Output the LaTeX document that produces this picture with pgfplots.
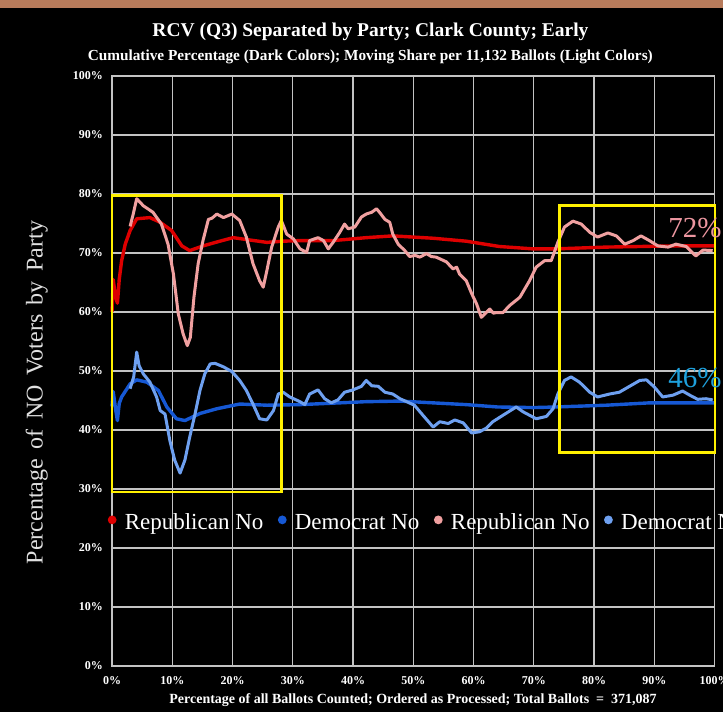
\documentclass[border=0pt]{standalone}
\usepackage{pgfplots}
\pgfplotsset{compat=1.18}
\usepackage{fontspec}
\setmainfont{Liberation Serif}
\definecolor{cRed}{RGB}{222,0,0}
\definecolor{cPink}{RGB}{240,160,160}
\definecolor{cBlue}{RGB}{22,88,212}
\definecolor{cLBlue}{RGB}{110,160,240}
\definecolor{cYel}{RGB}{255,240,0}
\definecolor{cGrid}{RGB}{195,195,195}
\definecolor{cBrown}{RGB}{184,123,91}
\definecolor{c72}{RGB}{236,150,160}
\definecolor{c46}{RGB}{30,160,220}
\begin{document}
\begin{tikzpicture}
\fill[black] (0,0) rectangle (723pt,712pt);
\fill[cBrown] (0,704pt) rectangle (723pt,712pt);
\begin{axis}[
  at={(112pt,46pt)}, anchor=south west,
  scale only axis, width=602.5pt, height=590pt,
  xmin=0, xmax=100, ymin=0, ymax=100,
  clip=false,
  xtick={0,10,...,100}, ytick={0,10,...,100},
  xticklabels={0\%,10\%,20\%,30\%,40\%,50\%,60\%,70\%,80\%,90\%,100\%},
  yticklabels={0\%,10\%,20\%,30\%,40\%,50\%,60\%,70\%,80\%,90\%,100\%},
  ticklabel style={text=white, font=\bfseries\fontsize{12}{12}\selectfont},
  xticklabel style={anchor=base, inner sep=0pt, yshift=-19pt},
  yticklabel style={anchor=base east, inner sep=0pt, xshift=-9pt, yshift=-4pt},
  major tick length=0pt,
  grid=major,
  major grid style={draw=cGrid, line width=1.2pt},
  axis line style={draw=cGrid, line width=1.2pt},
  legend columns=4,
  legend image code/.code={\fill[#1,draw=none] (4.4pt,0.6ex) circle (4.4pt);},
  legend style={at={(-0.007,0.243)}, anchor=west, draw=none, fill=none,
    text=white, font=\fontsize{23}{23}\selectfont, inner sep=0pt, outer sep=0pt,
    nodes={inner sep=0pt},
    /tikz/every even column/.append style={column sep=14.5pt},
    /tikz/every odd column/.append style={column sep=8.2pt}},
]
\addplot[color=cRed, line width=3.4pt, line join=round] coordinates {
(0,60) (0.2,65.5) (0.6,62.5) (0.9,61.5) (1.2,65.5) (1.6,68.7) (2.2,71.5) (3.0,73.8) (4.1,75.8) (6.3,76.0) (8.0,75.2) (9.9,73.8) (11.6,71.2) (12.9,70.4) (15.1,71.2) (17.9,72.0) (20.1,72.6) (22.9,72.2) (25.7,71.8) (28.4,72.0) (31.2,72.1) (36.7,72.1) (42.2,72.6) (46.6,72.9) (53.3,72.5) (58.8,72.0) (64.3,71.1) (69.8,70.7) (73.7,70.7) (76.5,70.8) (82,71.0) (87.6,71.1) (93,71.2) (100,71.2)
};
\addlegendentry{Republican No}
\addplot[color=cBlue, line width=3.4pt, line join=round] coordinates {
(0,44) (0.2,46.5) (0.6,43.5) (0.9,41.6) (1.2,44.5) (1.6,45.6) (3.0,47.8) (4.1,48.5) (5.8,48.1) (7.7,46.7) (9.1,43.9) (10.7,41.9) (12.1,41.6) (14.6,42.8) (17.4,43.6) (21.2,44.4) (25.7,44.2) (31.2,44.3) (42.2,44.8) (47.8,44.9) (58.8,44.3) (64,43.9) (69.9,43.8) (73.7,43.9) (82.0,44.2) (89.2,44.6) (100,44.6)
};
\addlegendentry{Democrat No}
\addplot[color=cPink, line width=3pt, line join=round] coordinates {
(3.0,74.5) (3.5,76.5) (4.1,79.2) (5.2,78.0) (6.8,76.9) (8.2,74.9) (9.3,71.5) (10.2,66.4) (11.0,59.7) (11.8,56.3) (12.5,54.3) (13.0,55.7) (13.6,62.5) (14.3,68.2) (15.1,72.1) (16.0,75.7) (16.6,75.9) (17.4,76.6) (18.5,76.0) (19.2,76.3) (19.9,76.6) (21.2,75.5) (22.3,72.7) (23.4,68.2) (24.5,65.3) (25.1,64.2) (25.7,67.0) (26.5,71.0) (27.6,74.4) (28.1,75.5) (29.0,73.2) (30.1,72.4) (31.2,70.7) (32.3,70.1) (32.8,72.1) (34.2,72.6) (35.1,72.1) (35.9,70.7) (36.7,71.8) (37.8,73.5) (38.6,74.9) (39.2,74.1) (40.3,74.4) (41.4,76.1) (42.2,76.6) (43.1,76.9) (43.9,77.5) (44.4,76.9) (45.3,75.7) (46.1,75.2) (46.6,73.2) (47.5,71.5) (48.6,70.4) (49.4,69.4) (50.3,69.6) (51.1,69.3) (52.2,69.9) (53.0,69.4) (53.8,69.3) (55.5,68.5) (56.6,67.3) (57.2,67.6) (57.7,66.4) (58.8,65.3) (59.7,63.1) (60.5,61.4) (61.3,59.1) (61.9,59.7) (62.7,60.5) (63.3,59.8) (63.8,59.9) (64.9,59.9) (66.0,61.1) (67.7,62.5) (69.3,65.3) (70.4,67.6) (71.8,68.7) (72.9,68.7) (74.0,71.8) (75.1,74.4) (76.5,75.4) (77.9,74.9) (79.3,73.5) (80.6,72.7) (82.3,73.4) (83.7,72.9) (85.1,71.5) (86.5,72.1) (87.8,72.9) (89.2,72.1) (90.6,71.2) (92.3,71.0) (93.6,71.5) (95.3,71.1) (96.9,69.5) (98.1,70.5) (99.7,70.4)
};
\addlegendentry{Republican No}
\addplot[color=cLBlue, line width=3pt, line join=round] coordinates {
(3.0,47.0) (3.6,49.0) (4.1,53.2) (4.5,50.9) (5.2,49.5) (6.3,48.1) (7.4,45.6) (8.0,43.3) (8.8,42.7) (9.6,38.2) (10.4,34.9) (11.3,32.7) (12.1,34.9) (12.9,38.8) (13.8,42.8) (14.6,46.7) (15.4,49.5) (16.3,51.2) (17.1,51.3) (18.5,50.7) (19.9,49.9) (21.2,48.4) (22.3,46.7) (23.4,44.4) (24.5,41.9) (25.7,41.7) (26.8,43.3) (27.6,46.1) (28.4,46.4) (29.5,45.6) (31.2,44.8) (32.0,44.3) (32.8,46.1) (34.2,46.8) (35.3,45.3) (36.4,44.6) (37.5,45.1) (38.6,46.4) (40.0,46.8) (41.4,47.4) (42.2,48.4) (43.1,47.5) (44.2,47.4) (45.3,46.4) (46.6,46.1) (47.8,45.3) (48.9,44.8) (50.2,44.2) (51.6,42.5) (53.3,40.5) (54.4,41.4) (55.8,41.1) (56.9,41.7) (58.3,41.2) (59.7,39.5) (61.0,39.7) (62.1,40.3) (63.2,41.4) (64.9,42.5) (66.3,43.4) (67.1,43.9) (68.2,43.1) (69.3,42.5) (70.4,41.9) (72.1,42.3) (73.2,43.6) (74.0,46.1) (75.1,48.4) (76.2,49.0) (77.6,48.1) (79.3,46.4) (80.6,45.6) (82.6,46.1) (84.2,46.4) (85.9,47.4) (87.6,48.4) (88.7,48.5) (90.0,47.3) (91.4,45.6) (93.1,45.9) (94.7,46.6) (95.9,45.9) (97.2,45.2) (98.6,45.3) (99.7,45.1)
};
\addlegendentry{Democrat No}
\draw[cYel, line width=2.7pt] (axis cs:0,29.5) rectangle (axis cs:28.1,79.7);
\draw[cYel, line width=2.7pt] (axis cs:74.3,36.2) rectangle (axis cs:100.1,78.0);
\node[anchor=base west, inner sep=0pt, text=c72, font=\fontsize{29}{29}\selectfont] at (axis cs:92.3,72.7) {72\%};
\node[anchor=base west, inner sep=0pt, text=c46, font=\fontsize{29}{29}\selectfont] at (axis cs:92.3,47.2) {46\%};
\end{axis}
\node[anchor=base, inner sep=0pt, text=white, font=\bfseries\fontsize{19.5}{19.5}\selectfont] at (370.5pt,675.3pt) {RCV (Q3) Separated by Party; Clark County; Early};
\node[anchor=base, inner sep=0pt, text=white, font=\bfseries\fontsize{15.3}{15.3}\selectfont] at (370.3pt,651.3pt) {Cumulative Percentage (Dark Colors); Moving Share per 11,132 Ballots (Light Colors)};
\node[anchor=base, inner sep=0pt, text=white, font=\bfseries\fontsize{14}{14}\selectfont] at (413pt,8pt) {Percentage of all Ballots Counted; Ordered as Processed; Total Ballots \ =\ \ 371,087};
\node[anchor=base, rotate=90, inner sep=0pt, text=white!88!black, font=\fontsize{24}{24}\selectfont] at (42.7pt,319.5pt) {Percentage\hspace{0.15em} of\hspace{0.15em} NO\hspace{0.15em} Voters\hspace{0.15em} by\hspace{0.15em} Party};
\pgfresetboundingbox
\path[use as bounding box] (0,0) rectangle (723pt,712pt);
\end{tikzpicture}
\end{document}
